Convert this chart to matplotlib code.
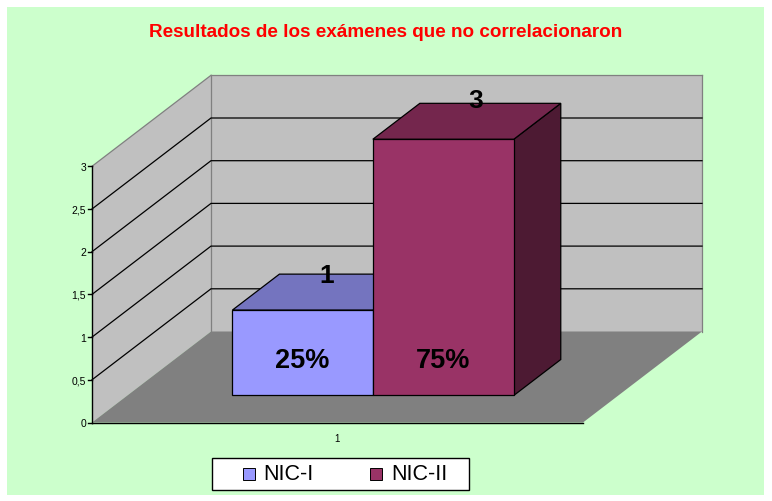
import matplotlib
matplotlib.use("Agg")
import matplotlib.pyplot as plt
from matplotlib.patches import Polygon, Rectangle

title = "Resultados de los exámenes que no correlacionaron"
series_names = ["NIC-I", "NIC-II"]
series_values = [1, 3]
percent_labels = ["25%", "75%"]
category_labels = ["1"]
y_ticks = [0, 0.5, 1, 1.5, 2, 2.5, 3]
y_tick_labels = ["0", "0,5", "1", "1,5", "2", "2,5", "3"]
front_colors = ["#9999FF", "#993366"]
top_colors = ["#7474BF", "#74264D"]
side_colors = ["#5A5A99", "#4D1A33"]

plt.rcParams["font.family"] = ["Liberation Sans", "DejaVu Sans"]
fig = plt.figure(figsize=(7.72, 5.02), dpi=100, facecolor="white")
ax = fig.add_axes([0, 0, 1, 1])
ax.set_xlim(0, 772)
ax.set_ylim(501.5, -0.5)
ax.axis("off")

# oblique projection of the chart box
OX, OY = 92, 423
WIDTH, UNIT = 491, 85.4
DX, DY = 119, -91


def P(u, d, v):
    return (OX + WIDTH * u + DX * d, OY + DY * d - UNIT * v)


ax.add_patch(Rectangle((7, 7), 757, 488, fc="#CCFFCC", ec="none", zorder=0))
ymax = y_ticks[-1]
ax.add_patch(Polygon([P(0, 0, 0), P(0, 1, 0), P(0, 1, ymax), P(0, 0, ymax)],
                     fc="#C0C0C0", ec="none", zorder=1))
ax.add_patch(Polygon([P(0, 1, 0), P(1, 1, 0), P(1, 1, ymax), P(0, 1, ymax)],
                     fc="#C0C0C0", ec="none", zorder=1))
ax.add_patch(Polygon([P(0, 0, 0), P(1, 0, 0), P(1, 1, 0), P(0, 1, 0)],
                     fc="#808080", ec="none", zorder=1))
for a, b in [(P(0, 1, 0), P(0, 1, ymax)), (P(0, 1, ymax), P(1, 1, ymax)),
             (P(1, 1, ymax), P(1, 1, 0)), (P(0, 0, ymax), P(0, 1, ymax))]:
    ax.plot(*zip(a, b), color="#808080", lw=0.9, zorder=2)

for t in y_ticks[1:-1]:
    pts = [P(0, 0, t), P(0, 1, t), P(1, 1, t)]
    ax.plot(*zip(*pts), color="black", lw=0.9, zorder=2, solid_joinstyle="miter")

# axes
ax.plot(*zip(P(0, 0, 0), P(0, 0, ymax)), color="black", lw=1, zorder=6)
ax.plot(*zip(P(0, 0, 0), P(1, 0, 0)), color="black", lw=1, zorder=6)
for t, lab in zip(y_ticks, y_tick_labels):
    x, y = P(0, 0, t)
    ax.plot([x - 4, x], [y, y], color="black", lw=1, zorder=6)
    ax.text(x - 6, y + 0.5, lab, ha="right", va="center", fontsize=7.5, color="black")
ax.text(337, 439, category_labels[0], ha="center", va="center", fontsize=7, color="black")

# bars
D0, D1 = 0.297, 0.692
edges = [0.214, 0.5, 0.787]
label_shift = [-23, -15]
for i, val in enumerate(series_values):
    u0, u1 = edges[i], edges[i + 1]
    ax.add_patch(Polygon([P(u1, D0, 0), P(u1, D1, 0), P(u1, D1, val), P(u1, D0, val)],
                         fc=side_colors[i], ec="black", lw=0.9, zorder=3 + i))
    ax.add_patch(Polygon([P(u0, D0, val), P(u1, D0, val), P(u1, D1, val), P(u0, D1, val)],
                         fc=top_colors[i], ec="black", lw=0.9, zorder=3 + i))
    ax.add_patch(Polygon([P(u0, D0, 0), P(u1, D0, 0), P(u1, D0, val), P(u0, D0, val)],
                         fc=front_colors[i], ec="black", lw=0.9, zorder=3 + i))
    cx = (u0 + u1) / 2
    x, y = P(cx, D0, 0)
    ax.text(x, 361, percent_labels[i], ha="center", va="center", fontsize=19.5,
            fontweight="bold", color="black", zorder=8)
    xt, yt = P(cx, D1, val)
    ax.text(xt + label_shift[i], yt + (1 if i == 0 else -3), str(val), ha="center", va="center",
            fontsize=19, fontweight="bold", color="black", zorder=8)

ax.text(385.5, 32, title, ha="center", va="center", fontsize=13.6, fontweight="bold", color="#FF0000")

# legend
ax.add_patch(Rectangle((212, 458), 257, 32, fc="white", ec="black", lw=1, zorder=9))
for sx, tx, name, col in [(243, 263, series_names[0], front_colors[0]),
                          (370, 391, series_names[1], front_colors[1])]:
    ax.add_patch(Rectangle((sx, 468), 12, 12, fc=col, ec="black", lw=0.7, zorder=10))
    ax.text(tx, 474.5, name, ha="left", va="center", fontsize=15.5, color="black", zorder=10)

fig.savefig("out.png", dpi=100, facecolor="white")
